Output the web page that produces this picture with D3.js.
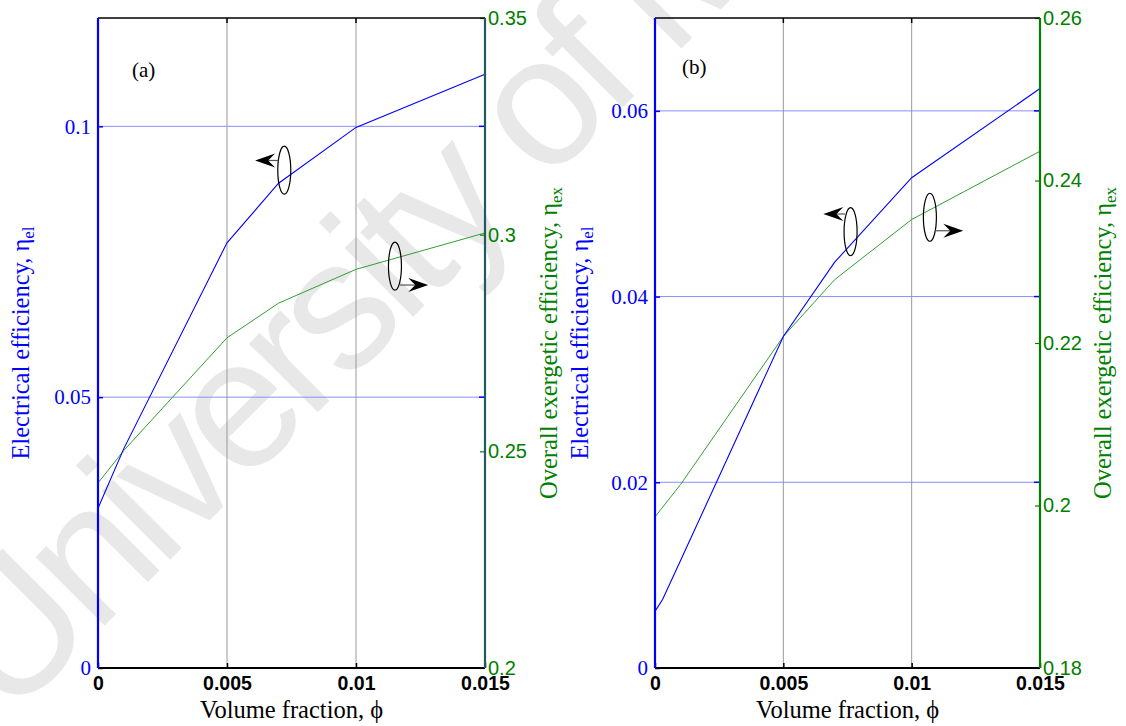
<!DOCTYPE html>
<html>
<head>
<meta charset="utf-8">
<script src="https://cdn.jsdelivr.net/npm/d3@7"></script>
<style>
  html, body { margin: 0; padding: 0; background: #fff; }
  svg { display: block; }
  .serif { font-family: "Liberation Serif", "Times New Roman", Times, "DejaVu Serif", serif; }
  .sans { font-family: "Liberation Sans", Arial, Helvetica, sans-serif; }
</style>
</head>
<body>
<div id="chart"></div>
<script>
// volume fraction samples and efficiencies
var phiA = [0, 0.001, 0.005, 0.007, 0.01, 0.015];
var elA  = [0.0295, 0.0405, 0.0785, 0.0895, 0.0998, 0.1096];
var exA  = [0.2427, 0.2502, 0.2762, 0.2842, 0.2920, 0.3004];

var phiB = [0, 0.0003, 0.0006, 0.001, 0.005, 0.007, 0.01, 0.015];
var elB  = [0.0061, 0.0074, 0.0092, 0.0116, 0.0357, 0.0437, 0.0528, 0.0624];
var exB  = [0.1986, 0.1998, 0.2010, 0.2026, 0.2208, 0.2278, 0.2352, 0.2436];

var xTicks = [0, 0.005, 0.01, 0.015];
var xTickLabels = ["0", "0.005", "0.01", "0.015"];
var leftTicksA = [0, 0.05, 0.1];
var rightTicksA = [0.2, 0.25, 0.3, 0.35];
var leftTicksB = [0, 0.02, 0.04, 0.06];
var rightTicksB = [0.18, 0.2, 0.22, 0.24, 0.26];

var W = 1126, H = 726;
var BLUE = "#0000ff", GREEN = "#008000";

var svg = d3.select("#chart").append("svg")
    .attr("width", W).attr("height", H);

// watermark, behind everything
svg.append("text")
    .attr("class", "sans")
    .attr("transform", "translate(8,722) rotate(-45)")
    .attr("font-size", 184)
    .attr("letter-spacing", -9)
    .attr("fill", "#e8e8e8")
    .text("University of Malaya");

function panel(cfg) {
    var top = 18, bottom = 668;
    var x = d3.scaleLinear().domain([0, 0.015]).range([cfg.left, cfg.right]);
    var yL = d3.scaleLinear().domain(cfg.leftDomain).range([bottom, top]);
    var yR = d3.scaleLinear().domain(cfg.rightDomain).range([bottom, top]);

    var g = svg.append("g");

    // grid
    g.selectAll(".vgrid").data(xTicks.slice(1, -1)).enter().append("line")
        .attr("x1", d => x(d)).attr("x2", d => x(d))
        .attr("y1", top).attr("y2", bottom)
        .attr("stroke", "#999").attr("stroke-width", 1);
    g.selectAll(".hgrid").data(cfg.leftTicks.slice(1)).enter().append("line")
        .attr("x1", cfg.left).attr("x2", cfg.right)
        .attr("y1", d => yL(d)).attr("y2", d => yL(d))
        .attr("stroke", "#8c8cff").attr("stroke-width", 1);

    // curves
    var lineL = d3.line().x((d, i) => x(cfg.phi[i])).y(d => yL(d));
    var lineR = d3.line().x((d, i) => x(cfg.phi[i])).y(d => yR(d));
    g.append("path").datum(cfg.ex).attr("d", lineR)
        .attr("fill", "none").attr("stroke", "#30a030").attr("stroke-width", 1);
    g.append("path").datum(cfg.el).attr("d", lineL)
        .attr("fill", "none").attr("stroke", BLUE).attr("stroke-width", 1.1);

    // x axis (bottom)
    var xb = g.append("g").attr("transform", "translate(0," + bottom + ")")
        .call(d3.axisBottom(x).tickValues(xTicks).tickSize(-5).tickPadding(8)
            .tickFormat((d, i) => xTickLabels[i]));
    xb.attr("font-family", null);
    xb.select(".domain").remove();
    xb.selectAll("line").attr("stroke", "#000").attr("stroke-width", 1.5);
    xb.selectAll("text").attr("class", "sans").attr("font-weight", "bold")
        .attr("font-size", 19.5).attr("fill", "#000");
    // top ticks
    g.selectAll(".tt").data(xTicks).enter().append("line")
        .attr("x1", d => x(d)).attr("x2", d => x(d))
        .attr("y1", top).attr("y2", top + 5)
        .attr("stroke", "#000").attr("stroke-width", 1.5);

    // left axis
    var yl = g.append("g").attr("transform", "translate(" + cfg.left + ",0)")
        .call(d3.axisLeft(yL).tickValues(cfg.leftTicks).tickSize(-5).tickPadding(7)
            .tickFormat(d3.format("")));
    yl.attr("font-family", null);
    yl.select(".domain").remove();
    yl.selectAll("line").attr("stroke", BLUE).attr("stroke-width", 1.5);
    yl.selectAll("text").attr("class", "serif").attr("font-size", 21).attr("fill", BLUE);
    // blue ticks mirrored on right side
    g.selectAll(".rt").data(cfg.leftTicks).enter().append("line")
        .attr("x1", cfg.right - 6).attr("x2", cfg.right)
        .attr("y1", d => yL(d)).attr("y2", d => yL(d))
        .attr("stroke", BLUE).attr("stroke-width", 1.5);

    // right axis
    var yr = g.append("g").attr("transform", "translate(" + cfg.right + ",0)")
        .call(d3.axisRight(yR).tickValues(cfg.rightTicks).tickSize(-5).tickPadding(3)
            .tickFormat(d3.format("")));
    yr.attr("font-family", null);
    yr.select(".domain").remove();
    yr.selectAll("line").attr("stroke", GREEN).attr("stroke-width", 1.2);
    yr.selectAll("text").attr("class", "sans").attr("font-size", 20).attr("fill", GREEN);

    // frame
    g.append("line").attr("x1", cfg.left).attr("x2", cfg.right).attr("y1", top).attr("y2", top)
        .attr("stroke", "#000").attr("stroke-width", 1.5);
    g.append("line").attr("x1", cfg.left).attr("x2", cfg.right).attr("y1", bottom).attr("y2", bottom)
        .attr("stroke", "#000").attr("stroke-width", 2.2);
    g.append("line").attr("x1", cfg.left).attr("x2", cfg.left).attr("y1", top).attr("y2", bottom)
        .attr("stroke", BLUE).attr("stroke-width", 2.2);
    g.append("line").attr("x1", cfg.right).attr("x2", cfg.right).attr("y1", top).attr("y2", bottom)
        .attr("stroke", cfg.rightAxisColor).attr("stroke-width", 2.2);

    // annotations: ellipse + arrow
    cfg.notes.forEach(function (n) {
        var cx = x(n.cx), cy = yL(n.cy);
        g.append("ellipse").attr("cx", cx).attr("cy", cy).attr("rx", 6.5).attr("ry", 24)
            .attr("fill", "none").attr("stroke", "#000").attr("stroke-width", 1.2);
        var ay = yL(n.ay), x0 = x(n.from), tip = x(n.tip);
        var dir = tip > x0 ? 1 : -1;
        g.append("line").attr("x1", x0).attr("x2", tip - dir * 12).attr("y1", ay).attr("y2", ay)
            .attr("stroke", "#555").attr("stroke-width", 1.2);
        var p = [[tip, ay], [tip - dir * 20, ay - 7], [tip - dir * 13, ay], [tip - dir * 20, ay + 7]];
        g.append("path").attr("d", "M" + p.join("L") + "Z").attr("fill", "#000");
    });

    // panel tag
    g.append("text").attr("class", "serif").attr("x", cfg.tagX).attr("y", cfg.tagY)
        .attr("font-size", 21).attr("fill", "#000")
        .text(cfg.tag);

    // axis titles
    var mid = (top + bottom) / 2;
    g.append("text").attr("class", "serif").attr("text-anchor", "middle")
        .attr("x", (cfg.left + cfg.right) / 2).attr("y", 718)
        .attr("font-size", 24.5).attr("fill", "#000")
        .text("Volume fraction,  \u03D5");

    var tl = g.append("text").attr("class", "serif").attr("text-anchor", "middle")
        .attr("transform", "translate(" + cfg.leftLabelX + "," + mid + ") rotate(-90)")
        .attr("font-size", 24.5).attr("fill", BLUE);
    tl.append("tspan").text("Electrical efficiency,  \u03B7");
    tl.append("tspan").attr("font-size", 17).attr("dy", 5).text("el");

    var tr = g.append("text").attr("class", "serif").attr("text-anchor", "middle")
        .attr("transform", "translate(" + cfg.rightLabelX + "," + mid + ") rotate(-90)")
        .attr("font-size", 24.5).attr("fill", GREEN);
    tr.append("tspan").text("Overall exergetic efficiency,  \u03B7");
    tr.append("tspan").attr("font-size", 17).attr("dy", 5).text("ex");
}

panel({
    left: 98, right: 485,
    leftDomain: [0, 0.12], rightDomain: [0.2, 0.35],
    leftTicks: leftTicksA, rightTicks: rightTicksA,
    phi: phiA, el: elA, ex: exA,
    rightAxisColor: "#1d5a64",
    tag: "(a)", tagX: 132, tagY: 77,
    leftLabelX: 29, rightLabelX: 557,
    notes: [
        { cx: 0.00722, cy: 0.0919, ay: 0.0937, from: 0.00699, tip: 0.00609 },
        { cx: 0.01151, cy: 0.0742, ay: 0.0707, from: 0.0117, tip: 0.0128 }
    ]
});

panel({
    left: 655, right: 1040,
    leftDomain: [0, 0.07], rightDomain: [0.18, 0.26],
    leftTicks: leftTicksB, rightTicks: rightTicksB,
    phi: phiB, el: elB, ex: exB,
    rightAxisColor: GREEN,
    tag: "(b)", tagX: 682, tagY: 74,
    leftLabelX: 588, rightLabelX: 1111,
    notes: [
        { cx: 0.00762, cy: 0.04699, ay: 0.04889, from: 0.0074, tip: 0.00656 },
        { cx: 0.01071, cy: 0.04854, ay: 0.04709, from: 0.01091, tip: 0.01201 }
    ]
});
</script>
</body>
</html>
